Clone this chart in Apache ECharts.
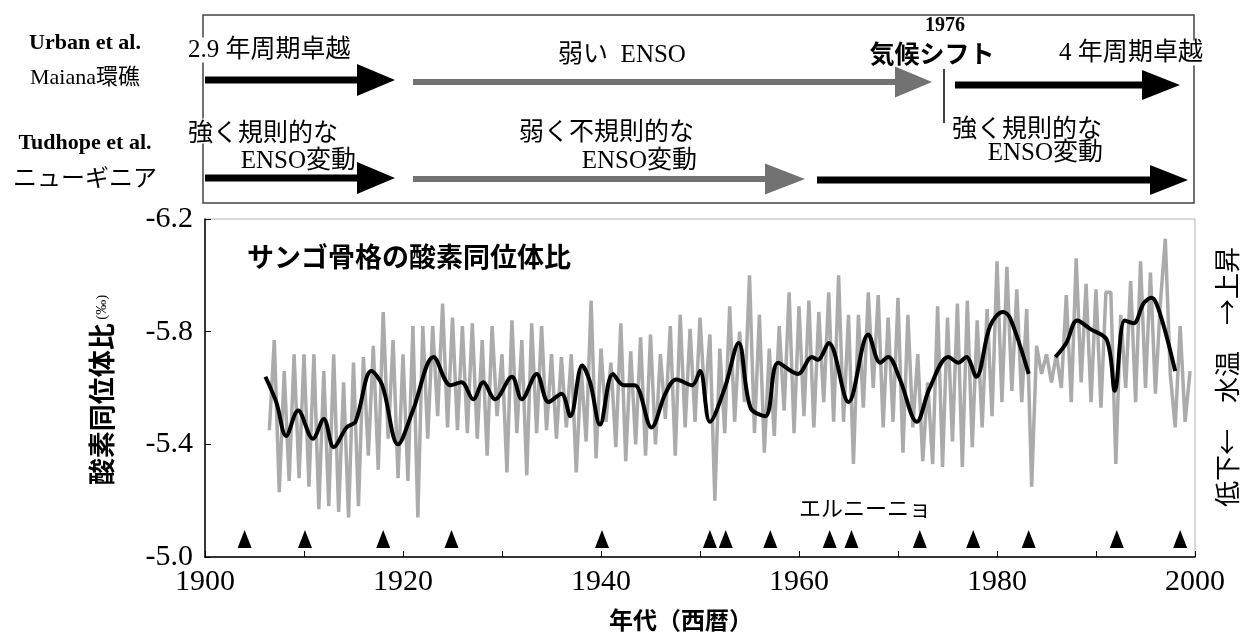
<!DOCTYPE html>
<html>
<head>
<meta charset="utf-8">
<script src="https://cdn.jsdelivr.net/npm/echarts@6/dist/echarts.min.js"></script>
<style>
  html, body { margin: 0; padding: 0; background: #fff; }
  #chart { width: 1242px; height: 635px; }
</style>
</head>
<body>
<div id="chart"></div>
<script>
// Coral skeleton oxygen-isotope record (‰), semiannual samples starting 1906.5
const isoStartYear = 1906.5;
const isoStep = 0.5;
const isoValues = [
  -5.45, -5.77, -5.23, -5.66, -5.27, -5.72, -5.28, -5.72, -5.25, -5.72,
  -5.17, -5.66, -5.18, -5.72, -5.16, -5.62, -5.14, -5.69, -5.18, -5.71,
  -5.36, -5.75, -5.31, -5.87, -5.42, -5.77, -5.28, -5.72, -5.27, -5.82,
  -5.14, -5.82, -5.42, -5.82, -5.50, -5.90, -5.46, -5.85, -5.45, -5.82,
  -5.44, -5.83, -5.42, -5.77, -5.36, -5.82, -5.50, -5.72, -5.30, -5.84,
  -5.44, -5.77, -5.29, -5.83, -5.44, -5.82, -5.45, -5.72, -5.42, -5.71,
  -5.46, -5.72, -5.30, -5.67, -5.41, -5.91, -5.35, -5.74, -5.48, -5.69,
  -5.39, -5.83, -5.34, -5.73, -5.40, -5.78, -5.36, -5.79, -5.40, -5.72,
  -5.49, -5.82, -5.36, -5.86, -5.46, -5.81, -5.48, -5.85, -5.55, -5.79,
  -5.20, -5.74, -5.44, -5.89, -5.48, -5.80, -5.55, -6.00, -5.44, -5.86,
  -5.37, -5.74, -5.43, -5.82, -5.52, -5.94, -5.44, -5.89, -5.50, -5.91,
  -5.46, -5.87, -5.55, -5.94, -5.48, -6.00, -5.48, -5.86, -5.33, -5.86,
  -5.53, -5.94, -5.60, -5.93, -5.46, -5.85, -5.48, -5.92, -5.37, -5.86,
  -5.46, -5.72, -5.34, -5.62, -5.33, -5.89, -5.32, -5.85, -5.41, -5.90,
  -5.32, -5.91, -5.39, -5.84, -5.46, -5.88, -5.50, -6.05, -5.55, -6.03,
  -5.59, -5.95, -5.55, -5.88, -5.25, -5.75, -5.65, -5.72, -5.62, -5.72,
  -5.60, -5.93, -5.55, -6.06, -5.62, -5.97, -5.55, -5.95, -5.53, -5.94,
  -5.94, -5.33, -5.86, -5.60, -5.98, -5.55, -6.05, -5.60, -6.01, -5.58,
  -5.90, -6.13, -5.65, -5.46, -5.82, -5.48, -5.66
];

// Smoothed record (null marks the break in the curve)
const smoothYears = [
  1906.1, 1907.2, 1908.2, 1909.4, 1910.9, 1912.0, 1913.0, 1914.3, 1915.2, 1916.8,
  1917.9, 1919.5, 1921.0, 1923.1, 1924.8, 1925.9, 1927.1, 1928.1, 1929.3, 1931.0,
  1932.0, 1933.5, 1934.7, 1936.0, 1936.9, 1938.1, 1938.9, 1939.9, 1941.2, 1942.3,
  1943.4, 1945.1, 1946.5, 1947.6, 1949.2, 1950.0, 1951.0, 1952.5, 1953.9, 1955.1,
  1956.6, 1957.9, 1959.9, 1961.3, 1961.9, 1963.0, 1965.0, 1967.0, 1968.2, 1969.0,
  1970.2, 1971.9, 1973.2, 1975.1, 1976.1, 1976.9, 1977.9, 1979.3, 1980.6, 1981.3,
  1983.2, 1984.5,
  1985.9, 1987.0, 1988.1, 1989.4, 1991.1, 1991.9, 1992.9, 1993.8, 1994.8, 1995.6,
  1996.5, 1998.0
];
const smoothValues = [
  -5.64, -5.55, -5.43, -5.52, -5.42, -5.49, -5.39, -5.46, -5.48, -5.66,
  -5.61, -5.40, -5.52, -5.71, -5.61, -5.62, -5.56, -5.62, -5.56, -5.64,
  -5.56, -5.65, -5.55, -5.58, -5.50, -5.68, -5.62, -5.47, -5.65, -5.61,
  -5.61, -5.46, -5.58, -5.63, -5.61, -5.66, -5.48, -5.60, -5.76, -5.53,
  -5.50, -5.69, -5.65, -5.71, -5.70, -5.76, -5.55, -5.79, -5.69, -5.71,
  -5.63, -5.48, -5.60, -5.71, -5.69, -5.71, -5.64, -5.82, -5.87, -5.85,
  -5.65, null,
  -5.71, -5.76, -5.84, -5.81, -5.77, -5.59, -5.84, -5.83, -5.90, -5.92,
  -5.86, -5.66
];

// El Niño years
const elNinoYears = [1904, 1910.1, 1918, 1924.9, 1940.1, 1951.0, 1952.6, 1957.1,
  1963.1, 1965.3, 1972.2, 1977.6, 1983.2, 1992.1, 1998.5];
const elNinoLevel = -5.064;

// Axis ticks
const yTickValues = [-6.2, -5.8, -5.4, -5.0];
const xLabelStep = 20;

const SERIF = "'Liberation Serif', 'Noto Sans CJK JP', serif";
const JP = "'Noto Sans CJK JP', sans-serif";
const MIX = "'Liberation Serif', 'Noto Sans CJK JP', sans-serif";

const isoData = isoValues.map((v, i) => [isoStartYear + i * isoStep, v]);
const smoothData = smoothYears.map((y, i) => [y, smoothValues[i]]);
const ninoData = elNinoYears.map(y => [y, elNinoLevel]);

// Timeline arrows in the header panel
function arrow(x1, headStart, x2, y, color, shaft, head) {
  return [
    { type: 'rect', shape: { x: x1, y: y - shaft / 2, width: headStart - x1 + 1, height: shaft },
      style: { fill: color } },
    { type: 'polygon', shape: { points: [[headStart, y - head / 2], [x2, y], [headStart, y + head / 2]] },
      style: { fill: color } }
  ];
}
function label(text, x, y, font, align, extra) {
  return Object.assign({ type: 'text', x: x, y: y, z: 10,
    style: { text: text, font: font, fill: '#000', align: align || 'left', verticalAlign: 'middle' } }, extra || {});
}
function boxedLabel(text, x, y, font, align) {
  return { type: 'text', x: x, y: y, z: 10,
    style: { text: text, font: font, fill: '#000', align: align, verticalAlign: 'middle', backgroundColor: '#fff' } };
}

const GREY_ARROW = '#727272';
const header = [
  { type: 'rect', shape: { x: 203, y: 15, width: 991, height: 188 },
    style: { fill: 'none', stroke: '#444', lineWidth: 1.5 } },
  ...arrow(205, 357, 395, 80, '#000', 7, 32),
  ...arrow(413, 895, 932, 82, GREY_ARROW, 6, 31),
  ...arrow(955, 1142, 1180, 85, '#000', 7, 30),
  ...arrow(205, 357, 395, 178, '#000', 7, 32),
  ...arrow(413, 765, 805, 179, GREY_ARROW, 6, 31),
  ...arrow(817, 1150, 1188, 180, '#000', 7, 30),
  { type: 'line', shape: { x1: 944, y1: 69, x2: 944, y2: 123 }, style: { stroke: '#000', lineWidth: 1.5 } },

  label('Urban et al.', 85, 43, "bold 22px " + SERIF, 'center'),
  label('Maiana環礁', 85, 78, "22px " + MIX, 'center'),
  label('Tudhope et al.', 85, 143, "bold 22px " + SERIF, 'center'),
  label('ニューギニア', 85, 177, "24px " + JP, 'center'),

  boxedLabel('2.9 年周期卓越', 188, 50, "25px " + MIX, 'left'),
  label('弱い  ENSO', 622, 55, "25px " + MIX, 'center'),
  label('1976', 945, 26, "bold 20px " + SERIF, 'center'),
  label('気候シフト', 932, 53, "bold 25px " + JP, 'center'),
  boxedLabel('4 年周期卓越', 1131, 53, "25px " + MIX, 'center'),

  boxedLabel('強く規則的な', 188, 131, "25px " + JP, 'left'),
  label('ENSO変動', 356, 161, "25px " + MIX, 'right'),
  label('弱く不規則的な', 519, 130, "25px " + JP, 'left'),
  label('ENSO変動', 697, 161, "25px " + MIX, 'right'),
  label('強く規則的な', 952, 127, "25px " + JP, 'left'),
  label('ENSO変動', 1103, 153, "25px " + MIX, 'right')
];

const plotText = [
  label('サンゴ骨格の酸素同位体比', 247, 257, "bold 27px " + JP, 'left'),
  label('エルニーニョ', 799, 508, "22px " + JP, 'left'),
  label('年代（西暦）', 681, 620, "bold 24px " + JP, 'center'),
  { type: 'text', x: 102, y: 390, rotation: Math.PI / 2, z: 10,
    style: { text: '{a|酸素同位体比} {b|(‰)}', align: 'center', verticalAlign: 'middle', fill: '#000',
      rich: { a: { font: "bold 27px " + JP }, b: { font: "15px " + MIX } } } },
  { type: 'text', x: 1227, y: 377, rotation: Math.PI / 2, z: 10,
    style: { text: '低下←　水温　→上昇', font: "26px " + JP, fill: '#000', align: 'center', verticalAlign: 'middle' } }
];

const chart = echarts.init(document.getElementById('chart'), null, { renderer: 'canvas' });
chart.setOption({
  animation: false,
  backgroundColor: '#fff',
  grid: { left: 205, right: 47, top: 219, bottom: 78, show: true, borderColor: '#b0b0b0', borderWidth: 1,
          backgroundColor: 'transparent' },
  xAxis: {
    type: 'value', min: 1900, max: 2000, interval: 10,
    axisLine: { lineStyle: { color: '#000', width: 1.5 } },
    axisTick: { inside: true, length: 6, lineStyle: { color: '#000', width: 1 } },
    axisLabel: { margin: 10, color: '#000', fontFamily: SERIF, fontSize: 30,
      formatter: v => (v % xLabelStep === 0 ? String(v) : '') },
    splitLine: { show: false }
  },
  yAxis: {
    type: 'value', inverse: true, min: -6.2, max: -5.0,
    axisLine: { show: true, lineStyle: { color: '#000', width: 1.5 } },
    axisTick: { show: true, inside: true, length: 6, customValues: yTickValues, lineStyle: { color: '#000' } },
    axisLabel: { margin: 12, color: '#000', fontFamily: SERIF, fontSize: 30, customValues: yTickValues,
      formatter: v => v.toFixed(1) },
    splitLine: { show: false }
  },
  series: [
    { type: 'line', data: isoData, showSymbol: false, z: 2,
      lineStyle: { color: '#ababab', width: 3.5 } },
    { type: 'line', data: smoothData, showSymbol: false, smooth: 0.35, connectNulls: false, z: 3,
      lineStyle: { color: '#000', width: 4 } },
    { type: 'scatter', data: ninoData, symbol: 'triangle', symbolSize: [14, 18], z: 4,
      itemStyle: { color: '#000', opacity: 1 } }
  ],
  graphic: header.concat(plotText)
});
</script>
</body>
</html>
